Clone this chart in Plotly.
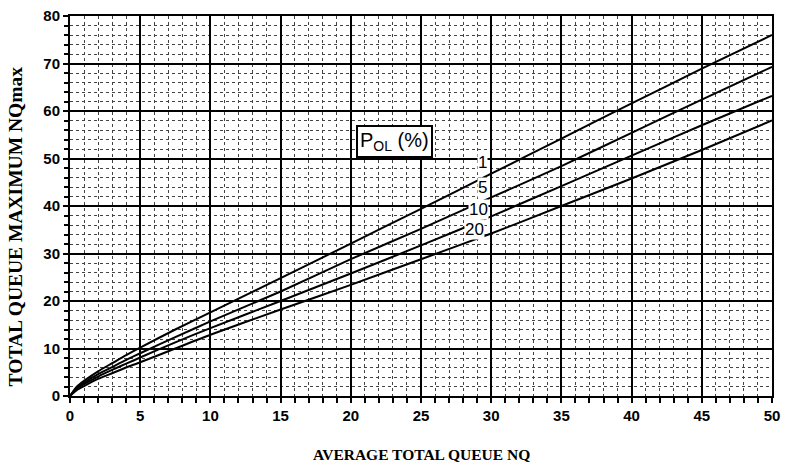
import plotly.graph_objects as go

# Data
nq = [0, 0.5, 1, 2, 3, 4, 5, 7.5, 10, 15, 20, 25, 30, 35, 40, 45, 50]
p1 = [0, 2.0, 3.2, 5.2, 6.9, 8.6, 10.2, 14.0, 17.6, 24.8, 32.1, 39.4, 46.8, 54.2, 61.6, 68.9, 76.0]
p5 = [0, 1.8, 2.8, 4.6, 6.1, 7.6, 9.0, 12.4, 15.7, 22.0, 28.8, 35.2, 41.8, 48.4, 55.4, 62.4, 69.3]
p10 = [0, 1.6, 2.5, 4.1, 5.5, 6.8, 8.1, 11.3, 14.3, 20.0, 25.8, 31.7, 37.8, 44.2, 50.6, 57.0, 63.2]
p20 = [0, 1.3, 2.1, 3.6, 4.8, 6.0, 7.1, 10.0, 12.9, 18.2, 23.4, 28.8, 34.2, 40.0, 45.8, 51.8, 58.0]

series = [("1", p1), ("5", p5), ("10", p10), ("20", p20)]
label_pos = {"1": (29.4, 49.2), "5": (29.4, 43.9), "10": (29.1, 39.3), "20": (28.8, 35.0)}

fig = go.Figure()
for name, ys in series:
    fig.add_trace(go.Scatter(x=nq, y=ys, mode="lines", name=name,
                             line=dict(color="black", width=2, shape="spline", smoothing=0.6),
                             showlegend=False, hoverinfo="skip"))

for name, (lx, ly) in label_pos.items():
    fig.add_annotation(x=lx, y=ly, text=name, showarrow=False, xref="x", yref="y",
                       font=dict(family="Liberation Sans", size=17, color="black"),
                       bgcolor="white", borderpad=0)

fig.add_annotation(x=23.1, y=53.6, text="P<sub>OL</sub> (%)", showarrow=False, xref="x", yref="y",
                   font=dict(family="Liberation Sans", size=20, color="black"),
                   bgcolor="white", bordercolor="black", borderwidth=2, borderpad=2)

fig.add_annotation(x=0.5, y=-0.155, xref="paper", yref="paper",
                   text="AVERAGE TOTAL QUEUE NQ", showarrow=False,
                   font=dict(family="Liberation Serif", size=15.5, color="black", weight="bold"),
                   xanchor="center", yanchor="middle")
fig.add_annotation(x=-0.0775, y=0.445, xref="paper", yref="paper",
                   text="TOTAL QUEUE MAXIMUM NQmax", showarrow=False, textangle=-90,
                   font=dict(family="Liberation Serif", size=19.5, color="black", weight="bold"),
                   xanchor="center", yanchor="middle")

tickfont = dict(family="Liberation Sans", size=15, color="black", weight="bold")
fig.update_xaxes(range=[0, 50], dtick=5, tick0=0, showgrid=True, gridcolor="black", gridwidth=2,
                 showline=True, linecolor="black", linewidth=2, mirror=True,
                 ticks="outside", ticklen=5, tickwidth=2, tickcolor="black",
                 tickfont=tickfont, zeroline=False,
                 minor=dict(dtick=1, showgrid=True, gridcolor="#444", griddash="dot", gridwidth=1,
                            ticks="outside", ticklen=5, tickwidth=2, tickcolor="black"))
fig.update_yaxes(range=[0, 80], dtick=10, tick0=0, showgrid=True, gridcolor="black", gridwidth=2,
                 showline=True, linecolor="black", linewidth=2, mirror=True,
                 ticks="outside", ticklen=5, tickwidth=2, tickcolor="black",
                 tickfont=tickfont, zeroline=False,
                 minor=dict(dtick=2, showgrid=True, gridcolor="#444", griddash="dot", gridwidth=1,
                            ticks="outside", ticklen=4, tickwidth=2, tickcolor="black"))

fig.update_layout(width=787, height=465, margin=dict(l=70, r=7, t=16, b=69),
                  plot_bgcolor="white", paper_bgcolor="white")

fig.write_html("out.html")
